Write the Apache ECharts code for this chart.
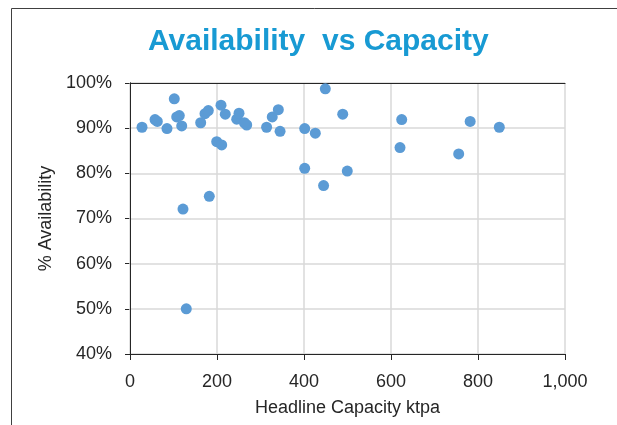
<!DOCTYPE html>
<html>
<head>
<meta charset="utf-8">
<script src="https://cdn.jsdelivr.net/npm/echarts@6/dist/echarts.min.js"></script>
<style>
html,body{margin:0;padding:0;background:#fff;}
#chart{width:617px;height:425px;}
</style>
</head>
<body>
<div id="chart"></div>
<script>
const chartTitle = 'Availability  vs Capacity';
const xAxisTitle = 'Headline Capacity ktpa';
const yAxisTitle = '% Availability';

// Headline capacity (ktpa)
const capacity = [27.6, 57.5, 62.8, 101.8, 85, 107.4, 113.3, 118.9, 162.5, 172.4,
  180, 199.3, 210.8, 209.2, 219, 245.3, 250.6, 268.3, 263, 314,
  327, 341, 345, 401.6, 426, 449, 489, 401.6, 445, 499.5,
  182.3, 121.8, 129.4, 624.6, 782, 849, 620.7, 755.6];
// Availability (%)
const availability = [90.2, 91.9, 91.5, 96.5, 89.9, 92.5, 92.8, 90.5, 91.2, 93.2,
  93.9, 87.0, 86.3, 95.1, 93.1, 92.0, 93.3, 90.7, 91.2, 90.2,
  92.5, 94.1, 89.3, 89.9, 88.9, 98.7, 93.1, 81.1, 77.3, 80.5,
  74.9, 72.1, 50.0, 91.9, 91.5, 90.2, 85.7, 84.3];

const xTicks = { min: 0, max: 1000, step: 200 };
const yTicks = { min: 40, max: 100, step: 10 };

const points = capacity.map((c, i) => [c, availability[i]]);

const chart = echarts.init(document.getElementById('chart'), null, { renderer: 'canvas' });
const font = "'Liberation Sans', Arial, sans-serif";
const frameAxis = {
  type: 'value',
  axisLine: { show: true, lineStyle: { color: '#262626', width: 1 } },
  axisTick: { show: false }, axisLabel: { show: false }, splitLine: { show: false },
  z: 5
};
chart.setOption({
  animation: false,
  backgroundColor: '#ffffff',
  title: {
    text: chartTitle,
    left: 143,
    top: 22,
    textStyle: { fontFamily: font, fontSize: 30, fontWeight: 'bold', color: '#189AD3' }
  },
  graphic: [{
    type: 'rect',
    shape: { x: 11.5, y: 8.5, width: 800, height: 600 },
    style: { fill: null, stroke: '#404040', lineWidth: 1 },
    silent: true
  }],
  grid: { left: 130, right: 52, top: 83, bottom: 71 },
  xAxis: [{
    type: 'value',
    min: xTicks.min, max: xTicks.max, interval: xTicks.step,
    name: xAxisTitle,
    nameLocation: 'middle',
    nameGap: 45,
    nameTextStyle: { fontFamily: font, fontSize: 18, color: '#262626' },
    axisLine: { show: true, lineStyle: { color: '#262626', width: 1 } },
    axisTick: { show: true, length: 6, inside: false, lineStyle: { color: '#262626' } },
    axisLabel: {
      fontFamily: font, fontSize: 18, color: '#262626', margin: 19,
      formatter: v => v.toLocaleString('en-US')
    },
    splitLine: { show: true, lineStyle: { color: '#D9D9D9', width: 1.5 } },
    z: 5
  }, Object.assign({ position: 'top', min: xTicks.min, max: xTicks.max }, frameAxis)],
  yAxis: [{
    type: 'value',
    min: yTicks.min, max: yTicks.max, interval: yTicks.step,
    name: yAxisTitle,
    nameLocation: 'middle',
    nameGap: 74,
    nameRotate: 90,
    nameTextStyle: { fontFamily: font, fontSize: 18, color: '#262626' },
    axisLine: { show: true, lineStyle: { color: '#262626', width: 1 } },
    axisTick: { show: true, length: 5, inside: false, lineStyle: { color: '#262626' } },
    axisLabel: {
      fontFamily: font, fontSize: 18, color: '#262626', margin: 18,
      formatter: '{value}%'
    },
    splitLine: { show: true, lineStyle: { color: '#D9D9D9', width: 1.5 } },
    z: 1
  }, Object.assign({ position: 'right', min: yTicks.min, max: yTicks.max }, frameAxis)],
  series: [{
    type: 'scatter',
    xAxisIndex: 0,
    yAxisIndex: 0,
    data: points,
    symbol: 'circle',
    symbolSize: 11,
    itemStyle: { color: '#5B9BD5', opacity: 1 },
    z: 10
  }]
});
</script>
</body>
</html>
